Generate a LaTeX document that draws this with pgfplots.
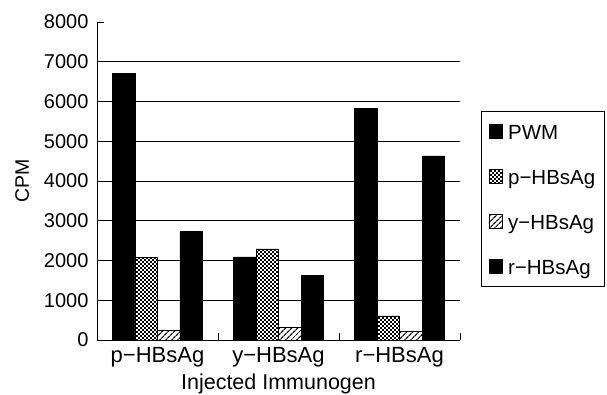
\documentclass[border=0pt]{standalone}
\usepackage{fontspec}
\setmainfont{Liberation Sans}
\usepackage{pgfplots}
\pgfplotsset{compat=1.18}
\usetikzlibrary{patterns,patterns.meta}
\pgfdeclarepatternformonly{finechecker}{\pgfqpoint{0pt}{0pt}}{\pgfqpoint{4.4pt}{4.4pt}}{\pgfqpoint{4.4pt}{4.4pt}}{%
  \pgfpathrectangle{\pgfqpoint{0.2pt}{0.2pt}}{\pgfqpoint{1.9pt}{1.9pt}}%
  \pgfpathrectangle{\pgfqpoint{2.4pt}{2.4pt}}{\pgfqpoint{1.9pt}{1.9pt}}%
  \pgfusepath{fill}}
\begin{document}
\begin{tikzpicture}
\begin{axis}[
  scale only axis, width=363pt, height=318pt,
  ybar=0pt, bar width=22.5pt,
  xmin=-0.5, xmax=2.5, ymin=0, ymax=8000,
  axis x line*=bottom, axis y line*=left,
  axis line style={-, line width=0.9pt},
  tick align=inside, major tick length=7pt,
  tick style={black, line width=0.9pt},
  xtick={-0.5,0.5,1.5,2.5}, xticklabels={},
  extra x ticks={0,1,2},
  extra x tick labels={p−HBsAg,y−HBsAg,r−HBsAg},
  extra x tick style={major tick length=0pt},
  xticklabel style={font=\fontsize{22}{24}\selectfont, yshift=-4pt},
  ytick={0,1000,...,7000},
  ymajorgrids, major grid style={black, line width=0.9pt},
  extra y ticks={8000}, extra y tick style={grid=none},
  scaled y ticks=false,
  /pgf/number format/1000 sep={},
  /pgf/number format/assume math mode=true,
  yticklabel style={font=\fontsize{20}{24}\selectfont, xshift=-5pt},
  xlabel={Injected Immunogen},
  xlabel style={font=\fontsize{21.5}{24}\selectfont, yshift=0pt},
  ylabel={CPM},
  ylabel shift=8pt,
  ylabel style={font=\fontsize{19.5}{24}\selectfont},
  legend image code/.code={\draw[#1, line width=0.6pt] (0pt,-6.75pt) rectangle (13pt,6.75pt);},
  legend cell align=left,
  legend style={at={(1.058,0.72)}, anchor=north west, draw=black, line width=0.9pt,
    font=\fontsize{20.5}{22}\selectfont, inner ysep=7pt, inner xsep=7pt, column sep=4pt,
    row sep=19pt, nodes={text height=19pt, text depth=3pt, inner sep=2pt}},
]
\addplot[draw=black, fill=black] coordinates {(0,6700) (1,2090) (2,5820)};
\addlegendentry{PWM}
\addplot[draw=black, fill=black, postaction={pattern=finechecker, pattern color=white}] coordinates {(0,2080) (1,2290) (2,610)};
\addlegendentry{p−HBsAg}
\addplot[draw=black, fill=white, postaction={pattern={Lines[angle=45, distance=4pt, line width=1.3pt]}}] coordinates {(0,250) (1,310) (2,225)};
\addlegendentry{y−HBsAg}
\addplot[draw=black, fill=black] coordinates {(0,2740) (1,1630) (2,4630)};
\addlegendentry{r−HBsAg}
\end{axis}
\pgfresetboundingbox
\path ([shift={(-97pt,-55pt)}]current axis.south west) rectangle ([shift={(147pt,22pt)}]current axis.north east);
\end{tikzpicture}
\end{document}
